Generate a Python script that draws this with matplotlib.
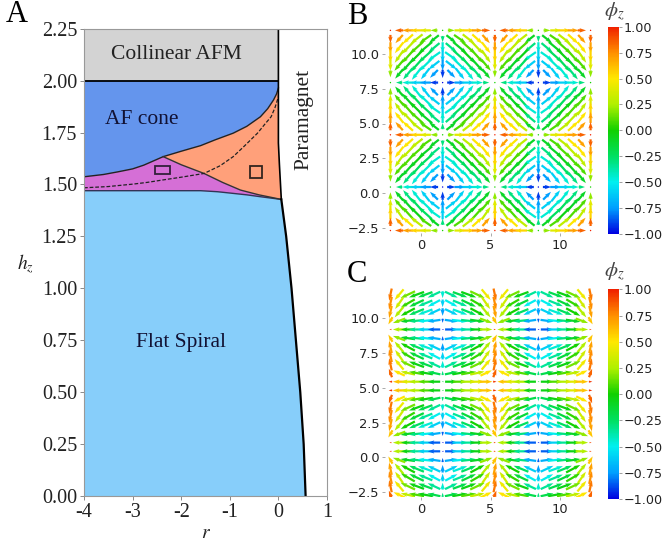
import numpy as np
import matplotlib
matplotlib.use('Agg')
import matplotlib.pyplot as plt
from matplotlib.colors import LinearSegmentedColormap
from matplotlib.patches import Rectangle

plt.rcParams['mathtext.fontset'] = 'stix'
serif = 'Liberation Serif'

# panel A boundaries
cone_left_r = [-4, -3.6, -3.32, -3.0, -2.77, -2.37]
cone_left_h = [1.537, 1.548, 1.56, 1.575, 1.593, 1.634]
cone_right_r = [-2.37, -2.0, -1.6, -1.3, -0.93, -0.65, -0.37, -0.22, -0.1, -0.04, 0]
cone_right_h = [1.634, 1.66, 1.687, 1.715, 1.747, 1.78, 1.826, 1.865, 1.907, 1.935, 1.964]
flat_r = [-4, -3, -2, -1.6, -1.25, -0.93, -0.65, -0.37, 0.06]
flat_h = [1.47, 1.47, 1.47, 1.47, 1.465, 1.457, 1.45, 1.441, 1.428]
split_r = [-2.37, -2.0, -1.53, -1.15, -0.78, -0.4, 0.06]
split_h = [1.634, 1.595, 1.553, 1.51, 1.473, 1.45, 1.428]
dash_r = [-4, -3.5, -2.98, -2.7, -2.37, -2, -1.53, -1.2, -0.93, -0.7, -0.43, -0.28, -0.15, -0.07, 0]
dash_h = [1.484, 1.49, 1.502, 1.51, 1.522, 1.535, 1.553, 1.59, 1.634, 1.685, 1.747, 1.79, 1.826, 1.87, 1.922]
upper_para_r = [0, 0, 0.02, 0.06]
upper_para_h = [2.25, 1.7, 1.6, 1.428]
lower_para_r = [0.06, 0.16, 0.27, 0.36, 0.45, 0.52, 0.56]
lower_para_h = [1.428, 1.25, 1.0, 0.75, 0.5, 0.25, 0]

# panels B, C: one folded cell of the field, 7 columns x 7 rows
b_ang = [[0, 0, 0, 0, 0, 0, 0],
         [90, 48, 42, 38, 35, 38, 90],
         [90, 52, 46, 42, 40, 40, 90],
         [90, 55, 48, 45, 42, 35, 90],
         [90, 50, 48, 48, 44, 38, 90],
         [90, 50, 50, 52, 52, 45, 90],
         [0, 0, 0, 0, 0, 0, 0]]
b_len = [[.1, .6, .8, .9, .8, .5, .03],
         [.6, .8, 1.0, 1.1, 1.05, .9, .45],
         [.8, 1.0, 1.25, 1.3, 1.3, 1.05, .8],
         [.9, 1.1, 1.3, 1.4, 1.3, 1.1, .9],
         [.8, 1.05, 1.3, 1.3, 1.25, 1.0, .8],
         [.5, .9, 1.05, 1.1, 1.0, .8, .6],
         [.03, .45, .8, .9, .8, .6, .1]]
b_phi = [[1, .85, .7, .55, .4, .2, 0],
         [.85, .7, .5, .3, .1, -.1, -.3],
         [.7, .5, .3, .1, -.1, -.3, -.45],
         [.55, .3, .1, -.05, -.25, -.45, -.6],
         [.4, .1, -.1, -.25, -.45, -.6, -.75],
         [.2, -.1, -.3, -.45, -.6, -.75, -.9],
         [0, -.3, -.45, -.6, -.75, -.9, -1]]

c_ang = [[0, 0, 0, 0, 0, 0, 0],
         [70, 25, 12, 10, 10, 12, 90],
         [78, 50, 25, 20, 20, 25, 90],
         [78, 55, 30, 25, 22, 28, 90],
         [78, 50, 28, 22, 20, 25, 90],
         [60, 20, 8, 6, 6, 8, 90],
         [0, 0, 0, 0, 0, 0, 0]]
c_len = [[.25, .9, 1.0, 1.1, 1.0, .9, .12],
         [.65, .9, 1.05, 1.1, 1.1, .95, .3],
         [.9, 1.0, 1.15, 1.15, 1.1, 1.0, .5],
         [.95, 1.0, 1.15, 1.15, 1.1, 1.0, .55],
         [.9, 1.0, 1.15, 1.15, 1.1, 1.0, .55],
         [.6, .95, 1.05, 1.1, 1.1, .95, .3],
         [.15, .9, 1.0, 1.1, 1.1, .9, .12]]
c_phi = [[.95, .6, .4, .25, .1, -.05, -.15],
         [.85, .5, .3, .1, -.05, -.2, -.3],
         [.8, .45, .15, -.05, -.2, -.35, -.45],
         [.75, .35, .05, -.15, -.35, -.5, -.6],
         [.7, .25, 0, -.25, -.45, -.6, -.75],
         [.6, .2, -.1, -.3, -.5, -.7, -.85],
         [.9, .25, -.05, -.35, -.6, -.85, -1]]

# which folded column/row each of the 24 grid lines uses, and its mirror sign
col_fold = [0, 1, 2, 3, 4, 5, 6, 5, 4, 3, 2, 1, 0, 1, 2, 3, 5, 6, 5, 4, 3, 2, 1, 0]
col_sign = [1, 1, 1, 1, 1, 1, 1, -1, -1, -1, -1, -1, -1, 1, 1, 1, 1, 1, -1, -1, -1, -1, -1, -1]
b_row_fold = [0, 1, 2, 3, 4, 5, 6, 5, 4, 3, 2, 1, 0, 1, 2, 3, 4, 5, 6, 5, 4, 3, 1, 0]
b_row_sign = [1, 1, 1, 1, 1, 1, 1, -1, -1, -1, -1, -1, -1, 1, 1, 1, 1, 1, 1, -1, -1, -1, -1, -1]
c_row_fold = [2, 3, 4, 5, 6, 5, 4, 3, 2, 1, 0, 0, 1, 2, 3, 4, 5, 6, 6, 5, 4, 3, 2, 1]
c_row_sign = [1, 1, 1, 1, 1, -1, -1, -1, -1, -1, -1, 1, 1, 1, 1, 1, 1, 1, -1, -1, -1, -1, -1, -1]
grid_x = np.linspace(-2.2, 12.2, 24)
grid_y = np.linspace(11.7, -2.7, 24)

cbar_ticks = [-1, -0.75, -0.5, -0.25, 0, 0.25, 0.5, 0.75, 1]
field_ticks_y = [-2.5, 0, 2.5, 5, 7.5, 10]
field_ticks_x = [0, 5, 10]

W, H = 662.0, 543.0
def px_axes(left, top, right, bottom):
    return [left / W, 1 - bottom / H, (right - left) / W, (bottom - top) / H]

cmap = LinearSegmentedColormap.from_list('field', ['#0000e0', '#00a0ff', '#00f0f0', '#00e060', '#10d000',
                                                    '#b0f000', '#ffe800', '#ff9000', '#f02000'])

fig = plt.figure(figsize=(6.62, 5.43), dpi=100)

# ---- A
ax = fig.add_axes(px_axes(84, 28.7, 327, 496))
ax.set_xlim(-4, 1)
ax.set_ylim(0, 2.25)
cone_r = cone_left_r + cone_right_r[1:]
cone_h = cone_left_h + cone_right_h[1:]
ax.fill([-4, 0, 0, -4], [2, 2, 2.25, 2.25], color='#d3d3d3', lw=0)
ax.fill(cone_r + [0, -4], cone_h + [2, 2], color='#6495ed', lw=0)
ax.fill(flat_r + lower_para_r + [-4], flat_h + lower_para_h + [0], color='#87cefa', lw=0)
ax.fill(cone_left_r + split_r + flat_r[::-1], cone_left_h + split_h + flat_h[::-1], color='#d56fd6', lw=0)
ax.fill(cone_right_r + upper_para_r[1:] + split_r[::-1], cone_right_h + upper_para_h[1:] + split_h[::-1], color='#ffa07a', lw=0)
ax.plot(cone_r, cone_h, color='#222222', lw=1)
ax.plot(flat_r, flat_h, color='#333355', lw=1)
ax.plot(split_r, split_h, color='#333333', lw=1)
ax.plot(dash_r, dash_h, color='#222222', lw=0.9, ls=(0, (3, 1.5)))
ax.plot(upper_para_r, upper_para_h, color='black', lw=1.2)
ax.plot(lower_para_r, lower_para_h, color='black', lw=1.6)
ax.plot([-4, 0], [2, 2], color='black', lw=1.3)
ax.add_patch(Rectangle((-2.53, 1.548), 0.29, 0.042, fill=False, ec='#33203a', lw=1.3))
ax.add_patch(Rectangle((-0.59, 1.53), 0.26, 0.06, fill=False, ec='#33251f', lw=1.3))
ax.set_xticks([-4, -3, -2, -1, 0, 1])
ax.set_xticklabels(['-4', '-3', '-2', '-1', '0', '1'], family=serif, fontsize=14.5)
ax.set_yticks(np.arange(0, 2.5, 0.25))
ax.set_yticklabels(['%.2f' % t for t in np.arange(0, 2.5, 0.25)], family=serif, fontsize=14.5)
ax.tick_params(length=3, width=0.6, color='#777777', pad=2, labelcolor='#222222')
for s in ax.spines.values():
    s.set_color('#999999')
    s.set_linewidth(0.8)
ax.text(-2.1, 2.125, 'Collinear AFM', family=serif, fontsize=15.5, ha='center', va='center', color='#222222')
ax.text(-2.82, 1.815, 'AF cone', family=serif, fontsize=15.5, ha='center', va='center', color='#111133')
ax.text(-2.0, 0.74, 'Flat Spiral', family=serif, fontsize=15.5, ha='center', va='center', color='#111133')
ax.text(0.52, 1.815, 'Paramagnet', family=serif, fontsize=15.5, ha='center', va='center', rotation=90, color='#222222')

fig.text(25 / W, 1 - 264 / H, r'$h_z$', fontsize=14, ha='center', va='center', color='#222222')
fig.text(206 / W, 1 - 533 / H, r'$r$', fontsize=14, ha='center', va='center', color='#222222')
fig.text(17 / W, 1 - 14 / H, 'A', family=serif, fontsize=22, ha='center', va='center')
fig.text(357 / W, 1 - 17 / H, 'B', family=serif, fontsize=22, ha='center', va='center')
fig.text(357 / W, 1 - 274 / H, 'C', family=serif, fontsize=22, ha='center', va='center')

# ---- B and C
def field(ang, lens, phi, row_fold, row_sign):
    ang = np.radians(np.array(ang, float))
    lens = np.array(lens, float)
    phi = np.array(phi, float)
    r = np.array(row_fold)[:, None]
    c = np.array(col_fold)[None, :]
    rs = np.array(row_sign)[:, None]
    cs = np.array(col_sign)[None, :]
    u = -lens[r, c] * np.cos(ang[r, c]) * cs
    v = -lens[r, c] * np.sin(ang[r, c]) * rs
    return u, v, phi[r, c]

panels = [(27, 233, 26.7, 234, b_ang, b_len, b_phi, b_row_fold, b_row_sign, 12),
          (287, 497, 289.3, 499, c_ang, c_len, c_phi, c_row_fold, c_row_sign, 272)]
for top, bottom, ctop, cbot, ang, lens, phi, row_fold, row_sign, label_y in panels:
    y10 = 54 if top == 27 else 318.3
    a = fig.add_axes(px_axes(385, top, 595, bottom))
    a.set_xlim((385 - 421) / 13.9, (595 - 421) / 13.9)
    a.set_ylim(10 - (bottom - y10) / 13.9, 10 + (y10 - top) / 13.9)
    u, v, p = field(ang, lens, phi, row_fold, row_sign)
    X, Y = np.meshgrid(grid_x, grid_y)
    q = a.quiver(X, Y, u, v, p, cmap=cmap, clim=(-1, 1), pivot='mid', angles='xy', scale_units='xy',
                 scale=1, units='xy', width=0.16, headwidth=2.0, headlength=3.0, headaxislength=2.6, minlength=0.7)
    a.set_xticks(field_ticks_x)
    a.set_yticks(field_ticks_y)
    a.tick_params(labelsize=9.4, length=2, width=0.5, color='#888888', labelcolor='#222222', pad=2)
    for s in a.spines.values():
        s.set_visible(False)
    cax = fig.add_axes(px_axes(608, ctop, 619, cbot))
    cb = fig.colorbar(q, cax=cax, ticks=cbar_ticks)
    cb.outline.set_visible(False)
    cb.ax.set_yticklabels(['\u2212%.2f' % -t if t < 0 else '%.2f' % t for t in cbar_ticks])
    cb.ax.tick_params(labelsize=9.2, length=2, width=0.5, pad=1.5, labelcolor='#222222', color='#777777')
    fig.text(614 / W, 1 - label_y / H, r'$\phi_z$', fontsize=15, ha='center', va='center', color='#444444')

fig.savefig('out.png', dpi=100)
